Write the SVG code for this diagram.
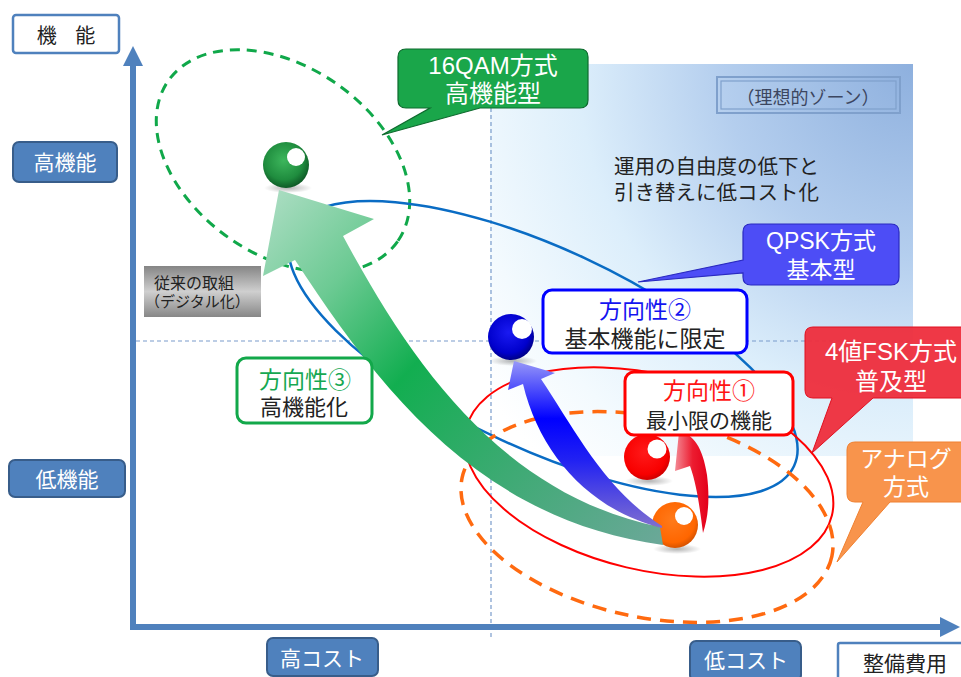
<svg xmlns="http://www.w3.org/2000/svg" width="961" height="677" viewBox="0 0 961 677">
<defs>
  <radialGradient id="zone" gradientUnits="userSpaceOnUse" cx="913" cy="65" r="540">
    <stop offset="0" stop-color="#8EB0DE"/>
    <stop offset="0.35" stop-color="#B4CEEE"/>
    <stop offset="0.62" stop-color="#DCEEFB"/>
    <stop offset="0.85" stop-color="#F3FAFE"/>
    <stop offset="1" stop-color="#FFFFFF"/>
  </radialGradient>
  <linearGradient id="gray" x1="0" y1="0" x2="0" y2="1">
    <stop offset="0" stop-color="#858585"/>
    <stop offset="0.5" stop-color="#CFCFCF"/>
    <stop offset="1" stop-color="#878787"/>
  </linearGradient>
  <linearGradient id="gArrow" gradientUnits="userSpaceOnUse" x1="280" y1="190" x2="660" y2="540">
    <stop offset="0" stop-color="#A8DCC0"/>
    <stop offset="0.2" stop-color="#6CCA93"/>
    <stop offset="0.42" stop-color="#12AE50"/>
    <stop offset="0.7" stop-color="#3EAA74"/>
    <stop offset="1" stop-color="#6AA898"/>
  </linearGradient>
  <linearGradient id="bArrow" gradientUnits="userSpaceOnUse" x1="0" y1="360" x2="0" y2="528">
    <stop offset="0" stop-color="#9A9AF8"/>
    <stop offset="0.35" stop-color="#0000FF"/>
    <stop offset="0.6" stop-color="#2222F2"/>
    <stop offset="1" stop-color="#8070D0"/>
  </linearGradient>
  <linearGradient id="rArrow" gradientUnits="userSpaceOnUse" x1="674" y1="0" x2="708" y2="0">
    <stop offset="0" stop-color="#F4909A"/>
    <stop offset="0.55" stop-color="#EC1C30"/>
    <stop offset="1" stop-color="#E4001A"/>
  </linearGradient>
  <radialGradient id="ballG" cx="0.45" cy="0.4" r="0.6">
    <stop offset="0" stop-color="#3DB65C"/>
    <stop offset="0.7" stop-color="#1F8C3E"/>
    <stop offset="1" stop-color="#0E5A26"/>
  </radialGradient>
  <radialGradient id="ballB" cx="0.45" cy="0.4" r="0.6">
    <stop offset="0" stop-color="#1A1AF2"/>
    <stop offset="0.75" stop-color="#0000CC"/>
    <stop offset="1" stop-color="#000088"/>
  </radialGradient>
  <radialGradient id="ballR" cx="0.45" cy="0.4" r="0.6">
    <stop offset="0" stop-color="#FF1A1A"/>
    <stop offset="0.8" stop-color="#F80000"/>
    <stop offset="1" stop-color="#D00000"/>
  </radialGradient>
  <radialGradient id="ballO" cx="0.45" cy="0.4" r="0.6">
    <stop offset="0" stop-color="#FF7A1A"/>
    <stop offset="0.8" stop-color="#FF6600"/>
    <stop offset="1" stop-color="#D85300"/>
  </radialGradient>
  <radialGradient id="shadow" cx="0.5" cy="0.5" r="0.5">
    <stop offset="0" stop-color="#000" stop-opacity="0.3"/>
    <stop offset="1" stop-color="#000" stop-opacity="0"/>
  </radialGradient>
</defs>
<style>
  .jp{font-family:"Noto Sans CJK JP","Noto Sans",sans-serif}
  .lat{font-family:"Liberation Sans","Noto Sans CJK JP",sans-serif}
  .lbl{fill:#4F81BD;stroke:#385D8A;stroke-width:2}
  .lbltxt{fill:#FFFFFF;font-size:21px;text-anchor:middle}
  .axisbox{fill:#FFFFFF;stroke:#4F81BD;stroke-width:2.5}
  .grid{stroke:#7A9CCB;stroke-width:1.2;stroke-dasharray:4 3;fill:none}
  .dir{fill:#FFFFFF;stroke-width:3}
  .mid{text-anchor:middle}
  .hl{fill:#FFFFFF}
  .callTxt{fill:#FFFFFF;text-anchor:middle}
</style>

<!-- ideal zone background -->
<rect x="490" y="64" width="423" height="392" fill="url(#zone)"/>

<!-- grid dashed lines -->
<g id="grid">
  <line class="grid" x1="491" y1="108" x2="491" y2="640"/>
  <line class="grid" x1="136" y1="341" x2="913" y2="341"/>
</g>

<!-- axes -->
<g id="axes">
  <path d="M133,64 V627 H942" fill="none" stroke="#4F81BD" stroke-width="6"/>
  <polygon points="133,46 123,66 143,66" fill="#4F81BD"/>
  <polygon points="960,627 940,617 940,637" fill="#4F81BD"/>
</g>

<!-- ellipses -->
<g id="ellipses" fill="none">
  <ellipse cx="283" cy="161" rx="140" ry="94" transform="rotate(35 283 161)" stroke="#10A84A" stroke-width="3" stroke-dasharray="10 7"/>
  <ellipse cx="543" cy="349" rx="277" ry="100" transform="rotate(25 543 349)" stroke="#0A6CC4" stroke-width="2.5"/>
  <ellipse cx="649" cy="472" rx="188" ry="98" transform="rotate(13.3 649 472)" stroke="#FF0000" stroke-width="2"/>
  <ellipse cx="647" cy="517" rx="189" ry="100" transform="rotate(12 647 517)" stroke="#FF6A10" stroke-width="3.5" stroke-dasharray="14 9"/>
</g>

<!-- callouts -->
<g id="callout-16qam">
  <path d="M406,49 H580 Q588,49 588,57 V100 Q588,108 580,108 H480 L382,135 L430,108 H406 Q398,108 398,100 V57 Q398,49 406,49 Z" fill="#1AA64A" stroke="#0E6A2E" stroke-width="1.2"/>
  <text class="lat callTxt" x="493" y="74" font-size="24">16QAM方式</text>
  <text class="jp callTxt" x="493" y="102" font-size="24">高機能型</text>
</g>
<g id="callout-qpsk">
  <path d="M751,224 H891 Q899,224 899,232 V277 Q899,285 891,285 H751 Q743,285 743,277 V273 L638,282 L743,260 V232 Q743,224 751,224 Z" fill="#4D4DF6" stroke="#2A2AC0" stroke-width="1.2"/>
  <text class="lat callTxt" x="821" y="249" font-size="23">QPSK方式</text>
  <text class="jp callTxt" x="821" y="278" font-size="23">基本型</text>
</g>
<g id="callout-fsk">
  <path d="M813,327 H975 V398 H873 L812,453 L832,398 H813 Q805,398 805,390 V335 Q805,327 813,327 Z" fill="#EE2D3C" fill-opacity="0.95" stroke="#E01020" stroke-width="1"/>
  <text class="lat callTxt" x="891" y="360" font-size="24">4値FSK方式</text>
  <text class="jp callTxt" x="891" y="390" font-size="24">普及型</text>
</g>
<g id="callout-analog">
  <path d="M855,442 H975 V502 H890 L837,562 L863,502 H855 Q847,502 847,494 V450 Q847,442 855,442 Z" fill="#F8944C" stroke="#F08030" stroke-width="1"/>
  <text class="jp callTxt" x="906" y="467" font-size="23">アナログ</text>
  <text class="jp callTxt" x="906" y="495" font-size="23">方式</text>
</g>

<!-- balls -->
<g id="ball-green">
  <ellipse cx="288" cy="188" rx="24" ry="5" fill="url(#shadow)"/>
  <circle cx="286" cy="165" r="23" fill="url(#ballG)"/>
  <circle class="hl" cx="296" cy="157" r="9"/>
</g>
<g id="ball-blue">
  <ellipse cx="513" cy="361" rx="24" ry="5" fill="url(#shadow)"/>
  <circle cx="511" cy="337" r="23" fill="url(#ballB)"/>
  <circle class="hl" cx="522" cy="329" r="10"/>
</g>
<g id="ball-red">
  <ellipse cx="649" cy="481" rx="24" ry="5" fill="url(#shadow)"/>
  <circle cx="647" cy="457" r="23" fill="url(#ballR)"/>
  <circle class="hl" cx="657" cy="449" r="9.5"/>
</g>
<g id="ball-orange">
  <ellipse cx="677" cy="549" rx="24" ry="5" fill="url(#shadow)"/>
  <circle cx="675" cy="525" r="23" fill="url(#ballO)"/>
  <circle class="hl" cx="684" cy="516" r="9"/>
</g>

<!-- arrows -->
<g id="arrows">
  <path d="M279,190 L374,219 L343,236 C415,370 505,495 660,527 L663,545 C480,520 380,390 295,260 L263,276 Z" fill="url(#gArrow)"/>
  <path d="M514,361 L555,373 L541,379 C575,430 605,490 662,526 L662,528 C590,510 540,455 523,384 L508,390 Z" fill="url(#bArrow)"/>
  <path d="M679,432 C693,433 703,448 707,475 C710,500 708,518 703,533 C700,510 697,485 690,466 L675,471 Z" fill="url(#rArrow)"/>
</g>

<!-- direction boxes -->
<g id="dir3">
  <rect class="dir" x="237" y="358" width="135" height="65" rx="9" stroke="#12A84A"/>
  <text class="jp mid" x="305" y="388" font-size="23" fill="#16A852">方向性③</text>
  <text class="jp mid" x="304" y="415" font-size="22" fill="#222">高機能化</text>
</g>
<g id="dir2">
  <rect class="dir" x="543" y="290" width="204" height="63" rx="9" stroke="#0000FF"/>
  <text class="jp mid" x="645" y="318" font-size="23" fill="#1414F0">方向性②</text>
  <text class="jp mid" x="645" y="347" font-size="23" fill="#222">基本機能に限定</text>
</g>
<g id="dir1">
  <rect class="dir" x="625" y="372" width="168" height="63" rx="9" stroke="#FF0000"/>
  <text class="jp mid" x="709" y="399" font-size="23" fill="#FF1414">方向性①</text>
  <text class="jp mid" x="709" y="428" font-size="21" fill="#222">最小限の機能</text>
</g>

<!-- conventional approach -->
<g id="conventional">
  <rect x="144" y="266" width="117" height="51" fill="url(#gray)"/>
  <text class="jp" x="154" y="289" font-size="16" fill="#222">従来の取組</text>
  <text class="jp" x="145" y="307" font-size="15" fill="#222">（デジタル化）</text>
</g>

<!-- ideal zone label -->
<g id="ideal-label">
  <rect x="717" y="77" width="183" height="36" fill="none" stroke="#7FA0CC" stroke-width="2"/>
  <rect x="721" y="81" width="175" height="28" fill="none" stroke="#7FA0CC" stroke-width="1.2"/>
  <text class="jp mid" x="808" y="104" font-size="18" fill="#3C4660">（理想的ゾーン）</text>
</g>
<g id="ideal-text">
  <text class="jp" x="614" y="174" font-size="20.5" fill="#222">運用の自由度の低下と</text>
  <text class="jp" x="614" y="200" font-size="20.5" fill="#222">引き替えに低コスト化</text>
</g>

<!-- axis labels -->
<g id="label-axis-y">
  <rect class="axisbox" x="13" y="15" width="106" height="38" rx="3"/>
  <text class="jp mid" x="66" y="43" font-size="20" fill="#222" word-spacing="14">機 能</text>
</g>
<g id="label-high-func">
  <rect class="lbl" x="13" y="142" width="104" height="40" rx="6"/>
  <text class="jp lbltxt" x="65" y="170">高機能</text>
</g>
<g id="label-low-func">
  <rect class="lbl" x="9" y="460" width="116" height="37" rx="6"/>
  <text class="jp lbltxt" x="67" y="487">低機能</text>
</g>
<g id="label-high-cost">
  <rect class="lbl" x="267" y="638" width="111" height="38" rx="6"/>
  <text class="jp lbltxt" x="322" y="666" font-size="19">高コスト</text>
</g>
<g id="label-low-cost">
  <rect class="lbl" x="690" y="641" width="111" height="40" rx="6"/>
  <text class="jp lbltxt" x="746" y="668" font-size="19">低コスト</text>
</g>
<g id="label-axis-x">
  <rect class="axisbox" x="838" y="643" width="140" height="50" rx="2"/>
  <text class="jp mid" x="905" y="671" font-size="21" fill="#222">整備費用</text>
</g>
</svg>
